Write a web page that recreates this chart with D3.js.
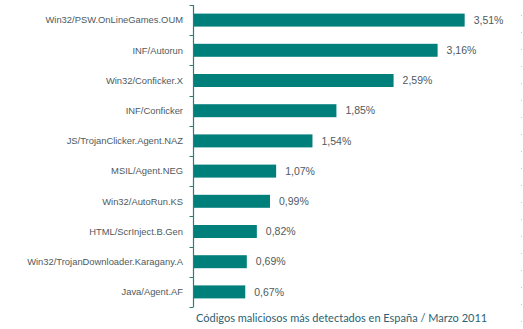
<!DOCTYPE html>
<html><head><meta charset="utf-8">
<script src="https://cdn.jsdelivr.net/npm/d3@7"></script>
<style>html,body{margin:0;padding:0;background:#fff;}svg{display:block;}</style>
</head><body>
<script>
const categories = ["Win32/PSW.OnLineGames.OUM","INF/Autorun","Win32/Conficker.X","INF/Conficker","JS/TrojanClicker.Agent.NAZ","MSIL/Agent.NEG","Win32/AutoRun.KS","HTML/ScrInject.B.Gen","Win32/TrojanDownloader.Karagany.A","Java/Agent.AF"];
const values = [3.51,3.16,2.59,1.85,1.54,1.07,0.99,0.82,0.69,0.67];
const valueLabels = ["3,51%","3,16%","2,59%","1,85%","1,54%","1,07%","0,99%","0,82%","0,69%","0,67%"];
const caption = "Códigos maliciosos más detectados en España / Marzo 2011";

const W = 523, H = 329;
const svg = d3.select("body").append("svg").attr("width", W).attr("height", H);

const x = d3.scaleLinear().domain([0, 4]).range([193.5, 502.5]);
const y = d3.scaleBand().domain(categories).range([5, 307]).paddingInner(0.57).paddingOuter(0.285);

const teal = "#007f7b";
const textCol = "#4f5a5e";

// right dotted border
svg.append("line").attr("x1", 521.5).attr("x2", 521.5).attr("y1", 15).attr("y2", 329)
  .attr("stroke", "#c4c4dc").attr("stroke-width", 1).attr("stroke-dasharray", "1,16");

// bars
svg.selectAll("rect.bar").data(values).join("rect").attr("class", "bar")
  .attr("x", x(0)).attr("y", (d, i) => y(categories[i]))
  .attr("width", d => x(d) - x(0)).attr("height", y.bandwidth())
  .attr("fill", teal);

// axis line
svg.append("line").attr("x1", x(0)).attr("x2", x(0)).attr("y1", 5).attr("y2", 307)
  .attr("stroke", "#2a7f7d").attr("stroke-width", 1.2);
// ticks at band boundaries
const step = y.step();
const bounds = categories.map(c => y(c) - step * y.paddingInner() / 2).concat([y(categories[categories.length-1]) + y.bandwidth() + step * y.paddingInner() / 2]);
svg.selectAll("line.tick").data(bounds).join("line").attr("class", "tick")
  .attr("x1", x(0) - 4).attr("x2", x(0)).attr("y1", d => Math.round(d) + 0.5).attr("y2", d => Math.round(d) + 0.5)
  .attr("stroke", "#2a7f7d").attr("stroke-width", 1);

// category labels
svg.selectAll("text.cat").data(categories).join("text").attr("class", "cat")
  .attr("x", 183).attr("y", d => y(d) + y.bandwidth() / 2)
  .attr("dy", "0.35em").attr("text-anchor", "end")
  .attr("font-family", "Liberation Sans, Arial, sans-serif").attr("font-size", "9.4px")
  .attr("fill", textCol).text(d => d);

// value labels
svg.selectAll("text.val").data(values).join("text").attr("class", "val")
  .attr("x", d => x(d) + 9).attr("y", (d, i) => y(categories[i]) + y.bandwidth() / 2)
  .attr("dy", "0.36em")
  .attr("font-family", "Liberation Sans, Arial, sans-serif").attr("font-size", "10.5px")
  .attr("fill", textCol).text((d, i) => valueLabels[i]);

// caption
svg.append("text").attr("x", 196).attr("y", 322)
  .attr("font-family", "Lato, Carlito, sans-serif").attr("font-size", "11px")
  .attr("fill", "#2c5f73").text(caption);
</script>
</body></html>
